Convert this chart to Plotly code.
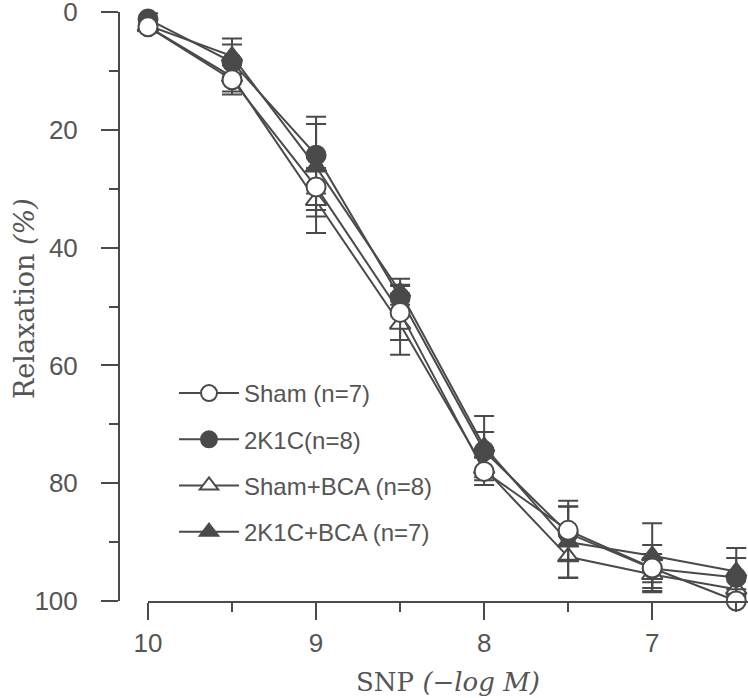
import plotly.graph_objects as go

# ---- data ----
snp = [10, 9.5, 9, 8.5, 8, 7.5, 7, 6.5]

sham = [2.5, 11.5, 29.7, 51.0, 78.0, 88.0, 94.4, 100.0]
sham_err = [1.0, 2.5, 5.0, 4.7, 2.3, 5.0, 2.4, 2.0]

k2c = [1.2, 8.5, 24.3, 48.5, 74.5, 88.5, 94.5, 96.0]
k2c_err = [1.0, 3.0, 6.5, 2.0, 3.2, 4.6, 4.0, 3.3]

sham_bca = [2.5, 11.0, 32.0, 53.0, 77.5, 92.5, 95.5, 98.0]
sham_bca_err = [1.0, 2.5, 5.5, 5.2, 2.0, 3.6, 2.8, 2.0]

k2c_bca = [2.3, 7.5, 26.3, 47.5, 73.8, 90.0, 92.3, 95.0]
k2c_bca_err = [1.0, 3.0, 7.3, 2.2, 5.2, 6.0, 5.5, 4.0]

names = ["Sham (n=7)", "2K1C(n=8)", "Sham+BCA (n=8)", "2K1C+BCA (n=7)"]

y_ticks = [0, 20, 40, 60, 80, 100]
x_ticks = [10, 9, 8, 7]

# ---- style ----
DARK = "#4a4a4a"
TXT = "#555555"

series = [
    # (name, values, errors, symbol, fill, rank)
    (names[2], sham_bca, sham_bca_err, "triangle-up", "white", 3),
    (names[3], k2c_bca, k2c_bca_err, "triangle-up", DARK, 4),
    (names[1], k2c, k2c_err, "circle", DARK, 2),
    (names[0], sham, sham_err, "circle", "white", 1),
]

fig = go.Figure()
for name, vals, errs, sym, fill, rank in series:
    fig.add_trace(go.Scatter(
        x=snp, y=vals, name=name, mode="lines+markers",
        legendrank=rank, legendgroup=name,
        line=dict(color=DARK, width=2),
        marker=dict(symbol=sym, size=19 if sym == "circle" else 18, color=fill,
                    line=dict(color=DARK, width=2)),
        error_y=dict(type="data", array=errs, visible=True, color=DARK,
                     thickness=2, width=10),
        cliponaxis=False,
    ))

W, H = 748, 698
L, R, T, B = 119, 0, 12, 97
plot_w = W - L - R
plot_h = H - T - B

fig.update_layout(
    width=W, height=H,
    margin=dict(l=L, r=R, t=T, b=B, autoexpand=False),
    paper_bgcolor="white", plot_bgcolor="white",
    font=dict(family="Liberation Sans, Arial, sans-serif", color=TXT),
    showlegend=True,
    legend=dict(
        x=(174 - L) / plot_w, y=(H - B - 371) / plot_h, xanchor="left", yanchor="top",
        font=dict(size=24, color=TXT, family="Liberation Sans, Arial, sans-serif"),
        tracegroupgap=12, traceorder="grouped",
        itemwidth=60, bgcolor="rgba(0,0,0,0)",
    ),
    xaxis=dict(
        domain=[(148 - L) / plot_w, 1],
        range=[10, 6.43],
        automargin=False,
        tickvals=x_ticks,
        ticks="outside", ticklen=17, tickwidth=2, tickcolor=DARK,
        showline=True, linecolor=DARK, linewidth=2,
        showgrid=False, zeroline=False,
        tickfont=dict(size=26, color=TXT),
        ticklabelstandoff=1,
        ticklabeloverflow="allow",
        minor=dict(dtick=0.5, tick0=10, ticks="outside", ticklen=9,
                   tickwidth=2, tickcolor=DARK, showgrid=False),
        title=dict(text="SNP <i>(\u2212log M)</i>", standoff=16,
                   font=dict(size=26, color=TXT, family="DejaVu Serif, serif")),
    ),
    yaxis=dict(
        anchor="free", position=0,
        range=[100, 0],
        automargin=False,
        tickvals=y_ticks,
        ticks="outside", ticklen=17, tickwidth=2, tickcolor=DARK,
        showline=True, linecolor=DARK, linewidth=2,
        showgrid=False, zeroline=False,
        tickfont=dict(size=26, color=TXT),
        ticklabelstandoff=18,
        ticklabeloverflow="allow",
        minor=dict(dtick=10, tick0=0, ticks="outside", ticklen=9,
                   tickwidth=2, tickcolor=DARK, showgrid=False),
    ),
    annotations=[dict(
        text="Relaxation <i>(%)</i>", textangle=-90, showarrow=False,
        xref="paper", yref="paper",
        x=(24 - L) / plot_w, y=(H - B - 298) / plot_h,
        xanchor="center", yanchor="middle",
        font=dict(size=27, color=TXT, family="DejaVu Serif, serif"),
    )],
)

# remove the browser's default 8px body margin so the figure sits at the page corner
fig.write_html("out.html", config={"displayModeBar": False},
               post_script="document.body.style.margin='0';")
